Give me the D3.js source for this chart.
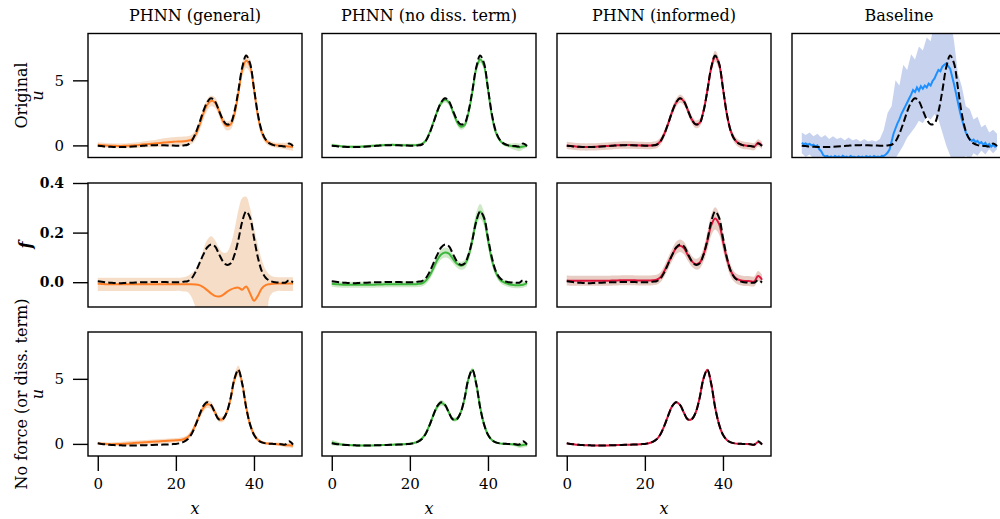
<!DOCTYPE html>
<html>
<head>
<meta charset="utf-8">
<script src="https://cdn.jsdelivr.net/npm/d3@7"></script>
<style>
  body { margin: 0; background: #fff; }
  svg { display: block; }
  text { font-family: "DejaVu Serif", serif; fill: #000; }
</style>
</head>
<body>
<svg id="fig" width="1000" height="519"></svg>
<script>
// ---------------- data ----------------
const colTitles = ["PHNN (general)", "PHNN (no diss. term)", "PHNN (informed)", "Baseline"];
const uTicks = [0, 5];
const fTicks = [0.0, 0.2, 0.4];
const xTicks = [0, 20, 40];

// sample grid (x = 0 … 50)
const xs = d3.range(0, 51, 1);
const xsFine = d3.range(0, 50.5, 0.5);

// reference solutions
const uTrueOrig = [-0.02,-0.05,-0.08,-0.1,-0.12,-0.13,-0.13,-0.12,-0.1,-0.08,
  -0.06,-0.04,-0.02,0,0.01,0.02,0.02,0.01,0,-0.01,
  -0.02,-0.02,0,0.05,0.3,0.9,1.7,2.6,3.3,3.62,
  3.4,2.7,2.0,1.62,1.7,2.6,4.2,6.0,6.9,6.3,
  4.4,2.4,1.1,0.45,0.15,0.02,-0.03,-0.05,-0.08,0.15,
  -0.05];
const fTrue = [0.004,0.002,0,-0.002,-0.003,-0.004,-0.004,-0.003,-0.002,-0.002,
  -0.001,0,0,0,0.001,0.001,0.001,0.001,0,0,
  0,0,0.002,0.004,0.015,0.04,0.075,0.11,0.14,0.152,
  0.145,0.115,0.085,0.07,0.075,0.11,0.17,0.245,0.285,0.26,
  0.18,0.1,0.045,0.018,0.006,0.001,-0.001,-0.002,-0.002,0.008,
  -0.001];
const uTrueNoForce = [0.05,0.0,-0.04,-0.07,-0.09,-0.1,-0.11,-0.12,-0.12,-0.12,
  -0.12,-0.11,-0.1,-0.09,-0.08,-0.07,-0.06,-0.05,-0.04,-0.02,
  0.0,0.05,0.15,0.35,0.75,1.4,2.2,2.9,3.2,3.0,
  2.4,1.88,1.9,2.4,3.5,5.0,5.7,4.6,2.8,1.5,
  0.7,0.3,0.12,0.04,0.01,0.0,-0.01,-0.02,-0.05,0.2,
  -0.05];

// PHNN (general)
const genU = [0.05,0.02,0,-0.02,-0.03,-0.04,-0.04,-0.03,-0.02,0,
  0.02,0.05,0.08,0.1,0.13,0.16,0.19,0.22,0.25,0.27,
  0.29,0.3,0.32,0.36,0.45,0.8,1.5,2.4,3.1,3.42,
  3.3,2.7,1.9,1.5,1.6,2.4,4.0,5.8,6.5,6.1,
  4.3,2.3,1.0,0.4,0.15,0.05,0,-0.02,-0.05,-0.08,
  -0.12];
const genUErr = [0.2,0.2,0.18,0.18,0.18,0.18,0.18,0.18,0.2,0.2,
  0.22,0.22,0.24,0.25,0.27,0.28,0.3,0.32,0.33,0.35,
  0.36,0.36,0.36,0.35,0.35,0.38,0.42,0.45,0.45,0.42,
  0.4,0.4,0.38,0.35,0.38,0.45,0.5,0.55,0.55,0.5,
  0.45,0.4,0.32,0.25,0.2,0.2,0.2,0.22,0.25,0.3,
  0.3];
const genF = [-0.006,-0.007,-0.008,-0.008,-0.008,-0.008,-0.008,-0.008,-0.008,-0.008,
  -0.008,-0.008,-0.008,-0.008,-0.008,-0.008,-0.008,-0.008,-0.008,-0.008,
  -0.008,-0.008,-0.008,-0.008,-0.008,-0.009,-0.012,-0.02,-0.032,-0.045,
  -0.055,-0.058,-0.052,-0.04,-0.03,-0.024,-0.022,-0.03,-0.017,-0.045,
  -0.075,-0.055,-0.025,-0.012,-0.008,-0.006,-0.005,-0.005,-0.005,-0.005,
  -0.005];
const genFHi = [0.018,0.018,0.018,0.018,0.018,0.018,0.018,0.018,0.018,0.018,
  0.018,0.018,0.018,0.018,0.018,0.018,0.018,0.018,0.018,0.018,
  0.018,0.018,0.02,0.025,0.035,0.05,0.08,0.13,0.17,0.185,
  0.17,0.14,0.12,0.12,0.15,0.21,0.29,0.34,0.345,0.3,
  0.22,0.15,0.09,0.05,0.03,0.022,0.02,0.02,0.02,0.02,
  0.02];
const genFLo = [-0.035,-0.035,-0.035,-0.035,-0.035,-0.035,-0.035,-0.035,-0.035,-0.035,
  -0.035,-0.035,-0.035,-0.035,-0.035,-0.035,-0.035,-0.035,-0.035,-0.035,
  -0.035,-0.035,-0.037,-0.04,-0.06,-0.1,-0.15,-0.15,-0.15,-0.15,
  -0.15,-0.15,-0.15,-0.15,-0.15,-0.15,-0.15,-0.15,-0.15,-0.15,
  -0.15,-0.15,-0.15,-0.15,-0.06,-0.04,-0.035,-0.035,-0.035,-0.035,
  -0.035];
const genU0 = [0.05,0.02,0.0,-0.02,-0.02,-0.01,0.0,0.02,0.04,0.06,
  0.08,0.1,0.12,0.14,0.16,0.18,0.2,0.22,0.24,0.26,
  0.28,0.3,0.36,0.5,0.85,1.45,2.15,2.75,3.05,2.95,
  2.45,1.92,1.9,2.4,3.45,4.95,5.65,4.65,2.85,1.5,
  0.72,0.32,0.13,0.05,0.02,0.0,-0.02,-0.05,-0.1,-0.1,
  -0.15];
const genU0Err = [0.1,0.1,0.12,0.12,0.14,0.15,0.16,0.17,0.18,0.18,
  0.18,0.18,0.18,0.18,0.18,0.18,0.18,0.18,0.18,0.18,
  0.18,0.18,0.18,0.2,0.22,0.25,0.28,0.3,0.3,0.28,
  0.25,0.22,0.22,0.25,0.3,0.35,0.38,0.35,0.3,0.25,
  0.2,0.15,0.12,0.1,0.1,0.1,0.12,0.14,0.16,0.18,
  0.2];

// PHNN (no diss. term)
const noDissU = [0.02,-0.02,-0.05,-0.08,-0.1,-0.11,-0.11,-0.1,-0.08,-0.06,
  -0.04,-0.02,0,0.02,0.03,0.04,0.04,0.03,0.02,0.02,
  0.02,0.02,0.04,0.1,0.35,0.95,1.75,2.6,3.25,3.5,
  3.3,2.6,1.85,1.45,1.55,2.5,4.1,5.9,6.6,6.1,
  4.3,2.3,1.0,0.4,0.12,0,-0.05,-0.1,-0.15,-0.08,
  -0.02];
const noDissUErr = [0.12,0.12,0.1,0.1,0.1,0.1,0.1,0.1,0.1,0.1,
  0.1,0.1,0.1,0.1,0.1,0.1,0.1,0.1,0.1,0.1,
  0.1,0.1,0.1,0.12,0.15,0.18,0.2,0.22,0.22,0.2,
  0.2,0.22,0.25,0.25,0.22,0.2,0.22,0.25,0.25,0.22,
  0.2,0.18,0.15,0.12,0.12,0.15,0.2,0.28,0.3,0.22,
  0.15];
const noDissF = [-0.006,-0.008,-0.009,-0.01,-0.01,-0.01,-0.01,-0.01,-0.01,-0.01,
  -0.01,-0.01,-0.009,-0.009,-0.008,-0.008,-0.008,-0.008,-0.008,-0.008,
  -0.008,-0.008,-0.007,-0.005,0.005,0.025,0.055,0.09,0.112,0.12,
  0.115,0.095,0.075,0.066,0.072,0.105,0.17,0.25,0.285,0.255,
  0.17,0.09,0.04,0.012,0,-0.006,-0.01,-0.012,-0.012,-0.01,
  -0.004];
const noDissFErr = [0.012,0.012,0.012,0.012,0.012,0.012,0.012,0.012,0.012,0.012,
  0.012,0.012,0.012,0.012,0.012,0.012,0.012,0.012,0.012,0.012,
  0.012,0.012,0.012,0.012,0.014,0.016,0.018,0.02,0.02,0.02,
  0.02,0.018,0.016,0.016,0.018,0.022,0.026,0.03,0.03,0.028,
  0.024,0.018,0.015,0.012,0.012,0.012,0.012,0.012,0.012,0.012,
  0.012];
const noDissU0 = [0.1,0.04,-0.02,-0.06,-0.08,-0.1,-0.11,-0.12,-0.12,-0.12,
  -0.12,-0.11,-0.1,-0.09,-0.08,-0.07,-0.05,-0.04,-0.03,-0.01,
  0.02,0.07,0.18,0.38,0.78,1.42,2.2,2.85,3.15,2.98,
  2.42,1.9,1.9,2.4,3.48,4.98,5.68,4.62,2.82,1.5,
  0.7,0.3,0.12,0.04,0.01,-0.01,-0.03,-0.06,-0.12,-0.08,
  -0.05];
const noDissU0Err = [0.22,0.18,0.12,0.08,0.07,0.07,0.07,0.07,0.07,0.07,
  0.07,0.07,0.07,0.07,0.07,0.07,0.07,0.08,0.08,0.09,
  0.1,0.1,0.12,0.14,0.16,0.18,0.2,0.22,0.22,0.2,
  0.18,0.16,0.16,0.18,0.2,0.2,0.2,0.2,0.18,0.15,
  0.12,0.1,0.08,0.07,0.07,0.08,0.1,0.14,0.2,0.2,
  0.15];

// PHNN (informed)
const informedU = [0.0,-0.04,-0.07,-0.1,-0.12,-0.13,-0.12,-0.11,-0.09,-0.07,
  -0.05,-0.03,-0.01,0.01,0.02,0.03,0.03,0.02,0.01,0,
  -0.01,-0.01,0.01,0.06,0.32,0.9,1.7,2.6,3.28,3.6,
  3.38,2.7,2.0,1.62,1.72,2.62,4.2,5.95,6.85,6.25,
  4.38,2.4,1.1,0.45,0.15,0.03,-0.02,-0.05,-0.1,0.2,
  0.0];
const informedUErr = [0.28,0.28,0.28,0.28,0.28,0.28,0.28,0.28,0.28,0.28,
  0.28,0.28,0.28,0.28,0.28,0.28,0.28,0.28,0.28,0.28,
  0.28,0.28,0.28,0.28,0.28,0.3,0.3,0.32,0.32,0.32,
  0.3,0.3,0.3,0.3,0.3,0.32,0.36,0.4,0.42,0.4,
  0.36,0.32,0.3,0.28,0.28,0.28,0.28,0.28,0.28,0.28,
  0.28];
const informedF = [0.007,0.006,0.006,0.006,0.006,0.006,0.006,0.006,0.006,0.006,
  0.006,0.006,0.007,0.007,0.008,0.008,0.008,0.008,0.007,0.007,
  0.007,0.007,0.008,0.01,0.02,0.045,0.078,0.11,0.138,0.147,
  0.138,0.11,0.085,0.073,0.078,0.11,0.165,0.23,0.257,0.235,
  0.165,0.095,0.045,0.02,0.01,0.006,0.005,0.004,0.003,0.025,
  0.01];
const informedFErr = [0.02,0.02,0.02,0.02,0.02,0.02,0.02,0.02,0.02,0.02,
  0.02,0.02,0.02,0.02,0.02,0.02,0.02,0.02,0.02,0.02,
  0.02,0.02,0.02,0.02,0.02,0.022,0.024,0.025,0.025,0.025,
  0.025,0.024,0.022,0.022,0.024,0.028,0.035,0.042,0.045,0.042,
  0.035,0.028,0.024,0.02,0.02,0.02,0.02,0.02,0.02,0.02,
  0.02];
const informedU0 = [0.04,0.0,-0.04,-0.07,-0.09,-0.1,-0.11,-0.12,-0.12,-0.12,
  -0.12,-0.11,-0.1,-0.09,-0.08,-0.07,-0.06,-0.05,-0.04,-0.02,
  0.0,0.05,0.15,0.35,0.75,1.4,2.2,2.9,3.2,3.0,
  2.4,1.88,1.9,2.4,3.5,5.0,5.7,4.6,2.8,1.5,
  0.7,0.3,0.12,0.04,0.01,0.0,-0.01,-0.03,-0.08,0.15,
  -0.02];
const informedU0Err = [0.05,0.05,0.05,0.05,0.05,0.05,0.05,0.05,0.05,0.05,
  0.05,0.05,0.05,0.05,0.05,0.05,0.05,0.05,0.05,0.05,
  0.05,0.05,0.05,0.05,0.05,0.06,0.06,0.07,0.07,0.07,
  0.06,0.06,0.06,0.06,0.07,0.08,0.08,0.08,0.07,0.06,
  0.05,0.05,0.05,0.05,0.05,0.05,0.05,0.05,0.06,0.06,
  0.05];

// Baseline (x on the fine grid)
const baseU = [0.2,0.1,0.15,0.05,0.12,0.0,0.06,-0.1,0.0,-0.3,
  -0.45,-0.75,-0.85,-0.8,-0.92,-0.85,-0.95,-0.82,-0.9,-0.85,
  -0.95,-0.8,-0.9,-0.86,-0.95,-0.82,-0.9,-0.88,-0.95,-0.84,
  -0.92,-0.86,-0.95,-0.83,-0.9,-0.85,-0.95,-0.82,-0.9,-0.86,
  -0.93,-0.8,-0.82,-0.7,-0.55,-0.3,0.3,0.9,1.3,1.7,
  2.0,2.4,2.7,3.0,3.3,3.6,3.9,4.25,4.1,4.45,
  4.2,4.55,4.35,4.6,4.45,4.75,4.6,4.95,5.15,5.5,
  5.8,5.7,6.05,6.2,6.3,6.1,5.9,5.3,4.7,4.0,
  3.3,2.6,2.0,1.5,1.0,0.7,0.5,0.35,0.45,0.25,
  0.35,0.15,0.25,0.05,0.2,-0.05,0.1,-0.1,0.05,-0.1,
  0.0];
const baseHi = [1.0,0.8,1.0,0.7,0.9,0.6,0.8,0.5,0.7,0.5,
  0.6,0.4,0.6,0.4,0.5,0.3,0.5,0.3,0.4,0.3,
  0.5,1.2,2.5,3.0,5.0,4.6,6.2,5.8,7.0,6.6,
  7.6,7.3,8.3,8.0,9.5,9.0,9.6,9.5,9.8,8.0,
  5.5,4.5,3.0,2.8,2.0,2.2,1.4,1.6,1.0,1.2,
  0.9];
const baseLo = [-0.6,-0.9,-0.7,-1.0,-1.2,-1.5,-1.5,-1.5,-1.5,-1.5,
  -1.5,-1.5,-1.5,-1.5,-1.5,-1.5,-1.5,-1.5,-1.5,-1.5,
  -1.5,-1.5,-1.5,-1.3,-1.0,-0.5,0.0,0.6,1.0,1.4,
  1.9,1.7,2.2,2.0,2.4,2.0,1.0,0.0,-0.8,-1.3,
  -1.0,-1.3,-0.8,-1.1,-0.6,-0.8,-0.4,-0.7,-0.3,-0.6,
  -0.3];

// ---------------- layout ----------------
const colLeft = [88, 322, 557, 792];
const panelW = 214, panelH = 124;
const rowTop = [33.5, 183, 332];

const palette = {
  orange: { line: "#ff7f27", band: "#f6ddc7" },
  green:  { line: "#3cb83c", band: "#cfe8c8" },
  crimson:{ line: "#dc143c", band: "#e7cdc3" },
  blue:   { line: "#1e8fff", band: "#c7d3ee" }
};

const svg = d3.select("#fig");
const xDomain = [-2.5, 52.3];
const uDomain = [-0.93, 8.6];
const fDomain = [-0.1, 0.4];

function sym(mean, err) {
  return {
    hi: mean.map((m, i) => m + err[i]),
    lo: mean.map((m, i) => m - err[i])
  };
}

// panel specs: [row][col]
const panels = [
  [
    { mean: genU, band: sym(genU, genUErr), truth: uTrueOrig, col: palette.orange },
    { mean: noDissU, band: sym(noDissU, noDissUErr), truth: uTrueOrig, col: palette.green },
    { mean: informedU, band: sym(informedU, informedUErr), truth: uTrueOrig, col: palette.crimson },
    { mean: baseU, band: { hi: baseHi, lo: baseLo }, truth: uTrueOrig, col: palette.blue, fine: true }
  ],
  [
    { mean: genF, band: { hi: genFHi, lo: genFLo }, truth: fTrue, col: palette.orange },
    { mean: noDissF, band: sym(noDissF, noDissFErr), truth: fTrue, col: palette.green },
    { mean: informedF, band: sym(informedF, informedFErr), truth: fTrue, col: palette.crimson }
  ],
  [
    { mean: genU0, band: sym(genU0, genU0Err), truth: uTrueNoForce, col: palette.orange },
    { mean: noDissU0, band: sym(noDissU0, noDissU0Err), truth: uTrueNoForce, col: palette.green },
    { mean: informedU0, band: sym(informedU0, informedU0Err), truth: uTrueNoForce, col: palette.crimson }
  ]
];

const defs = svg.append("defs");

panels.forEach((row, r) => {
  row.forEach((p, c) => {
    const x0 = colLeft[c], y0 = rowTop[r];
    const x = d3.scaleLinear().domain(xDomain).range([x0, x0 + panelW]);
    const y = d3.scaleLinear().domain(r === 1 ? fDomain : uDomain).range([y0 + panelH, y0]);
    const clipId = `clip-${r}-${c}`;
    defs.append("clipPath").attr("id", clipId)
      .append("rect").attr("x", x0).attr("y", y0).attr("width", panelW).attr("height", panelH);

    const g = svg.append("g");
    const plot = g.append("g").attr("clip-path", `url(#${clipId})`);

    const bandX = xs;
    const meanX = p.fine ? xsFine : xs;
    const curve = p.fine ? d3.curveLinear : d3.curveCatmullRom;

    plot.append("path")
      .datum(bandX.map((v, i) => [v, p.band.lo[i], p.band.hi[i]]))
      .attr("fill", p.col.band)
      .attr("d", d3.area().x(d => x(d[0])).y0(d => y(d[1])).y1(d => y(d[2]))
        .curve(p.fine ? d3.curveLinear : d3.curveCatmullRom));

    plot.append("path")
      .datum(meanX.map((v, i) => [v, p.mean[i]]))
      .attr("fill", "none").attr("stroke", p.col.line).attr("stroke-width", 2)
      .attr("d", d3.line().x(d => x(d[0])).y(d => y(d[1])).curve(curve));

    plot.append("path")
      .datum(xs.map((v, i) => [v, p.truth[i]]))
      .attr("fill", "none").attr("stroke", "#000").attr("stroke-width", 2)
      .attr("stroke-dasharray", "7.4,3.2")
      .attr("d", d3.line().x(d => x(d[0])).y(d => y(d[1])).curve(d3.curveCatmullRom));

    g.append("rect").attr("x", x0).attr("y", y0).attr("width", panelW).attr("height", panelH)
      .attr("fill", "none").attr("stroke", "#000").attr("stroke-width", 1.4);

    if (c === 0) {
      const ax = d3.axisLeft(y).tickSize(15).tickPadding(9);
      if (r === 1) ax.tickValues(fTicks).tickFormat(d3.format(".1f"));
      else ax.tickValues(uTicks).tickFormat(d3.format("d"));
      const ga = g.append("g").attr("transform", `translate(${x0},0)`).call(ax);
      ga.select(".domain").remove();
      ga.selectAll(".tick line").attr("stroke", "#000").attr("stroke-width", 1.4);
      ga.selectAll(".tick text")
        .style("font-family", '"DejaVu Serif", serif')
        .style("font-size", r === 1 ? "14px" : "15px")
        .style("font-weight", r === 1 ? "bold" : "normal")
        .attr("fill", "#000");
    }
    if (r === 2) {
      const ax = d3.axisBottom(x).tickValues(xTicks).tickSize(15).tickPadding(7).tickFormat(d3.format("d"));
      const ga = g.append("g").attr("transform", `translate(0,${y0 + panelH})`).call(ax);
      ga.select(".domain").remove();
      ga.selectAll(".tick line").attr("stroke", "#000").attr("stroke-width", 1.4);
      ga.selectAll(".tick text")
        .style("font-family", '"DejaVu Serif", serif')
        .style("font-size", "15px").attr("fill", "#000");
      g.append("text").attr("x", x0 + panelW / 2).attr("y", 514)
        .attr("text-anchor", "middle").style("font-size", "16px").style("font-style", "italic")
        .text("x");
    }
  });
});

// column titles
colTitles.forEach((t, c) => {
  svg.append("text").attr("x", colLeft[c] + panelW / 2).attr("y", 21)
    .attr("text-anchor", "middle").style("font-size", "16px").text(t);
});

// row labels
function rowLabel(text, xPos, yPos, style) {
  const t = svg.append("text")
    .attr("transform", `translate(${xPos},${yPos}) rotate(-90)`)
    .attr("text-anchor", "middle").style("font-size", "16px").text(text);
  if (style) Object.entries(style).forEach(([k, v]) => t.style(k, v));
  return t;
}
const rc = rowTop.map(t => t + panelH / 2);
rowLabel("Original", 27, rc[0]);
rowLabel("u", 43, rc[0], { "font-style": "italic" });
rowLabel("f", 31, rc[1], { "font-style": "italic", "font-weight": "bold" });
rowLabel("No force (or diss. term)", 27, rc[2]);
rowLabel("u", 43, rc[2], { "font-style": "italic" });
</script>
</body>
</html>
